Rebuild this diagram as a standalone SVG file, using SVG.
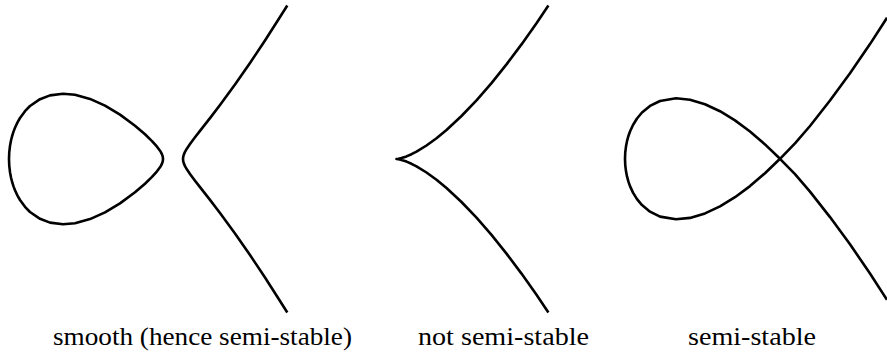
<svg xmlns="http://www.w3.org/2000/svg" width="887" height="353" viewBox="0 0 887 353">
<style>
.c{fill:none;stroke:#000;stroke-width:2.6;stroke-linejoin:round;stroke-linecap:butt}
.t{font-family:"Liberation Serif","DejaVu Serif",serif;font-size:26px;fill:#000}
</style>
<rect width="887" height="353" fill="#fff"/>
<g id="smooth">
<polyline class="c" points="9,159 9.25,152.4 10,145.8 11,140.5 12,136.5 13.5,131.6 15,127.7 17.5,122.4 20,118 25,111.2 30,106 40,99.2 50,95.4 63,93.8 75,94.8 90,98.9 105,105.6 120,114.6 135,125.7 145,134.3 152,141.1 157,146.7 160,150.7 161,152.4 162,154.4 162.75,156.7 163,159 162.75,161.3 162,163.6 161,165.6 160,167.3 157,171.3 152,176.9 145,183.7 135,192.3 120,203.4 105,212.4 90,219.1 75,223.2 63,224.2 50,222.6 40,218.8 30,212 25,206.8 20,200 17.5,195.6 15,190.3 13.5,186.4 12,181.5 11,177.5 10,172.2 9.25,165.6 9,159"/>
<polyline class="c" points="287.3,5.5 280,17 265,40.5 250,63 235,84.5 220,105 210,118.1 200,130.9 195,137.3 190,144 187,148.4 185,151.9 184,154.1 183.25,156.6 183,159 183.25,161.4 184,163.9 185,166.1 187,169.6 190,174 195,180.7 200,187.1 210,199.9 220,213 235,233.5 250,255 265,277.5 280,301 287.3,312.5"/>
</g>
<g id="cusp">
<polyline class="c" points="548.4,5.5 536.5,23.2 521.5,44.4 506.5,64.4 491.5,83.1 476.5,100.3 461.5,116 446.5,130 436.5,138.3 426.5,145.5 416.5,151.7 411.5,154.2 406.5,156.4 401.5,158.1 398.5,158.8 396.5,159 398.5,159.2 401.5,159.9 406.5,161.6 411.5,163.8 416.5,166.3 426.5,172.5 436.5,179.7 446.5,188 461.5,202 476.5,217.7 491.5,234.9 506.5,253.6 521.5,273.6 536.5,294.8 548.4,312.5"/>
</g>
<g id="node">
<polyline class="c" points="887,17.8 870,44.1 850,73.3 830,100.5 810,126 795,143.4 780,158.8 765,173.2 750,186.1 735,197.2 720,206.4 705,213.4 690,217.9 676,219.3 660,216.6 650,211.7 642,205.1 637,199.1 633,192.6 630,186.1 628.5,181.9 627,176.4 626,171.3 625.25,165.1 625,158.8 625.25,152.5 626,146.3 627,141.2 628.5,135.7 630,131.5 633,125 637,118.5 642,112.5 650,105.9 660,101 676,98.3 690,99.7 705,104.2 720,111.2 735,120.4 750,131.5 765,144.4 780,158.8 795,174.2 810,191.6 830,217.1 850,244.3 870,273.5 887,299.8"/>
</g>
<g id="labels">
<text class="t" x="53" y="345" textLength="299" lengthAdjust="spacingAndGlyphs">smooth (hence semi-stable)</text>
<text class="t" x="418" y="345" textLength="171" lengthAdjust="spacingAndGlyphs">not semi-stable</text>
<text class="t" x="688" y="345" textLength="128" lengthAdjust="spacingAndGlyphs">semi-stable</text>
</g>
</svg>
